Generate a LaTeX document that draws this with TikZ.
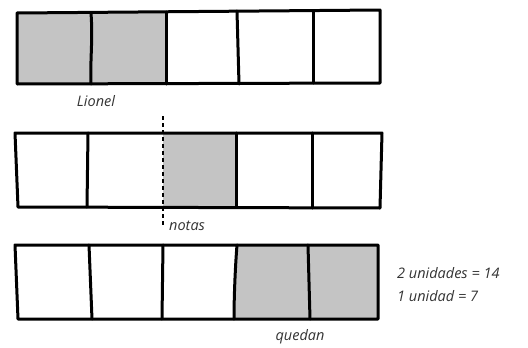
\documentclass[tikz,border=0pt]{standalone}
\usepackage{fontspec}
\setmainfont{Open Sans}
\definecolor{cellgrey}{HTML}{C4C4C4}
\tikzset{
  barline/.style={line width=3pt, line join=round, line cap=round},
  shaded/.style={fill=cellgrey},
  lbl/.style={font=\itshape\fontsize{14.5}{17}\selectfont, text=black!80, inner sep=0pt},
  cutline/.style={line width=1.6pt, dash pattern=on 4pt off 3pt}
}
\begin{document}
\begin{tikzpicture}[x=1pt, y=-1pt]
\useasboundingbox (0,0) rectangle (528,348);

% ---- first bar: Lionel's share (two units)
\fill[shaded] (17,13) -- (166,12) -- (166,84) -- (17,84) -- cycle;
\draw[barline] (17,13) -- (380,10) -- (380,83) -- (17,84) -- cycle;
\draw[barline] (91,13) .. controls (93,40) and (90,60) .. (91,84);
\draw[barline] (166,12) -- (166,84);
\draw[barline] (237,11) -- (239,84);
\draw[barline] (313,11) -- (313,83);
\node[lbl] (lionel) at (96,101) {Lionel};

% ---- second bar: notes bought (one unit)
\fill[shaded] (163,133) -- (236,133) -- (236,207) -- (163,207) -- cycle;
\draw[barline] (15,133) -- (382,133) -- (380,208) -- (18,207) -- cycle;
\draw[barline] (88,133) -- (87,207);
\draw[barline] (236,133) -- (236,207);
\draw[barline] (312,133) -- (312,208);
\coordinate (cuttop) at (163,116);
\coordinate (cutbot) at (163,225);
\draw[cutline] (cuttop) -- (cutbot);
\node[lbl, anchor=west] (notas) at (169,226) {notas};

% ---- third bar: what remains (two units)
\fill[shaded] (237,245) -- (378,245) -- (378,319) -- (234,319) -- cycle;
\draw[barline] (15,245) -- (378,245) -- (378,319) -- (18,319) -- cycle;
\draw[barline] (89,245) -- (92,319);
\draw[barline] (163,245) -- (162,319);
\draw[barline] (237,245) .. controls (235,270) and (234,300) .. (234,319);
\draw[barline] (308,245) -- (310,319);
\node[lbl] (quedan) at (300,337) {quedan};

\node[lbl, anchor=west] (eqa) at (397,273) {2 unidades = 14};
\node[lbl, anchor=west] (eqb) at (397,296) {1 unidad = 7};
\end{tikzpicture}
\end{document}
